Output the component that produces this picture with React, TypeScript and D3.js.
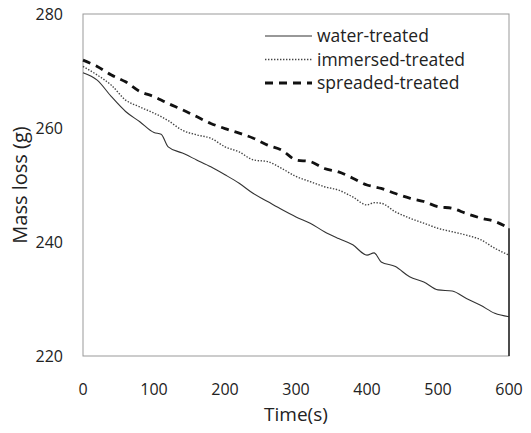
import React from 'react'
import * as d3 from 'd3'

const times = [0, 20, 40, 60, 80, 100, 110, 120, 140, 160, 180, 200, 220, 240, 260, 280, 300, 320, 340, 360, 380, 400, 410, 420, 440, 460, 480, 500, 520, 540, 560, 580, 600]

const water = [269.7, 268.4, 265.5, 262.9, 261.1, 259.2, 258.9, 256.7, 255.6, 254.4, 253.2, 251.8, 250.3, 248.5, 247.1, 245.7, 244.4, 243.3, 241.8, 240.6, 239.5, 237.7, 238.1, 236.5, 235.7, 233.9, 233.0, 231.6, 231.4, 230.1, 228.9, 227.5, 226.9]
const immersed = [270.8, 269.3, 267.5, 264.9, 263.7, 262.6, 262.0, 261.3, 259.6, 258.8, 258.2, 256.7, 255.8, 254.4, 254.1, 252.9, 251.5, 250.6, 249.7, 249.1, 247.9, 246.5, 246.9, 246.8, 245.3, 244.2, 243.3, 242.4, 241.8, 241.2, 240.4, 238.9, 237.7]
const spreaded = [271.9, 270.8, 269.3, 268.1, 266.4, 265.5, 264.9, 264.3, 263.2, 262.0, 260.8, 259.9, 259.1, 258.2, 257.0, 256.1, 254.4, 254.1, 252.9, 252.3, 251.2, 250.0, 249.7, 249.4, 248.5, 247.7, 247.1, 246.2, 245.9, 245.0, 244.2, 243.6, 242.4]

const seriesNames = ['water-treated', 'immersed-treated', 'spreaded-treated']
const xTicks = [0, 100, 200, 300, 400, 500, 600]
const yTicks = [220, 240, 260, 280]

const font = 'Open Sans, sans-serif'

const App = () => {
  const width = 531
  const height = 433
  const m = { top: 14, right: 22, bottom: 77, left: 83 }

  const x = d3.scaleLinear().domain([0, 600]).range([m.left, width - m.right])
  const y = d3.scaleLinear().domain([220, 280]).range([height - m.bottom, m.top])

  const line = d3
    .line<[number, number]>()
    .x(d => x(d[0]))
    .y(d => y(d[1]))
    .curve(d3.curveMonotoneX)

  const mk = (vals: number[]) => times.map((t, i) => [t, vals[i]] as [number, number])

  const styles = [
    { w: 1.1, dash: null, color: '#333' },
    { w: 1.4, dash: '1.4,1.6', color: '#444' },
    { w: 2.8, dash: '8,6', color: '#111' },
  ]
  const data = [water, immersed, spreaded]

  return (
    <svg width={width} height={height} style={{ position: 'absolute', left: 0, top: 0, background: '#fff' }}>
      <rect
        x={x(0)}
        y={y(280)}
        width={x(600) - x(0)}
        height={y(220) - y(280)}
        fill="none"
        stroke="#999"
        strokeWidth={1}
      />
      {data.map((vals, i) => (
        <path
          key={i}
          d={line(mk(vals)) || ''}
          fill="none"
          stroke={styles[i].color}
          strokeWidth={styles[i].w}
          strokeDasharray={styles[i].dash || undefined}
        />
      ))}
      {/* end drop at 600 s */}
      <line x1={x(600)} x2={x(600)} y1={y(spreaded[spreaded.length - 1])} y2={y(220)} stroke="#222" strokeWidth={1.5} />

      {yTicks.map(t => (
        <text key={t} x={63} y={y(t)} dy="0.35em" textAnchor="end" fontFamily={font} fontSize={16} fill="#222">
          {t}
        </text>
      ))}
      {xTicks.map(t => (
        <text key={t} x={x(t)} y={395} textAnchor="middle" fontFamily={font} fontSize={16} fill="#222">
          {t}
        </text>
      ))}
      <text x={x(300)} y={421} textAnchor="middle" fontFamily={font} fontSize={19} fill="#222">
        Time(s)
      </text>
      <text
        transform={`translate(27, ${(y(220) + y(280)) / 2}) rotate(-90)`}
        textAnchor="middle"
        fontFamily={font}
        fontSize={20}
        fill="#222"
      >
        Mass loss (g)
      </text>

      {seriesNames.map((name, i) => {
        const ly = 36 + i * 23.5
        return (
          <g key={name}>
            <line
              x1={265}
              x2={312}
              y1={ly}
              y2={ly}
              stroke={styles[i].color}
              strokeWidth={styles[i].w}
              strokeDasharray={styles[i].dash || undefined}
            />
            <text x={317} y={ly} dy="0.35em" fontFamily={font} fontSize={17.5} fill="#222">
              {name}
            </text>
          </g>
        )
      })}
    </svg>
  )
}

export default App
